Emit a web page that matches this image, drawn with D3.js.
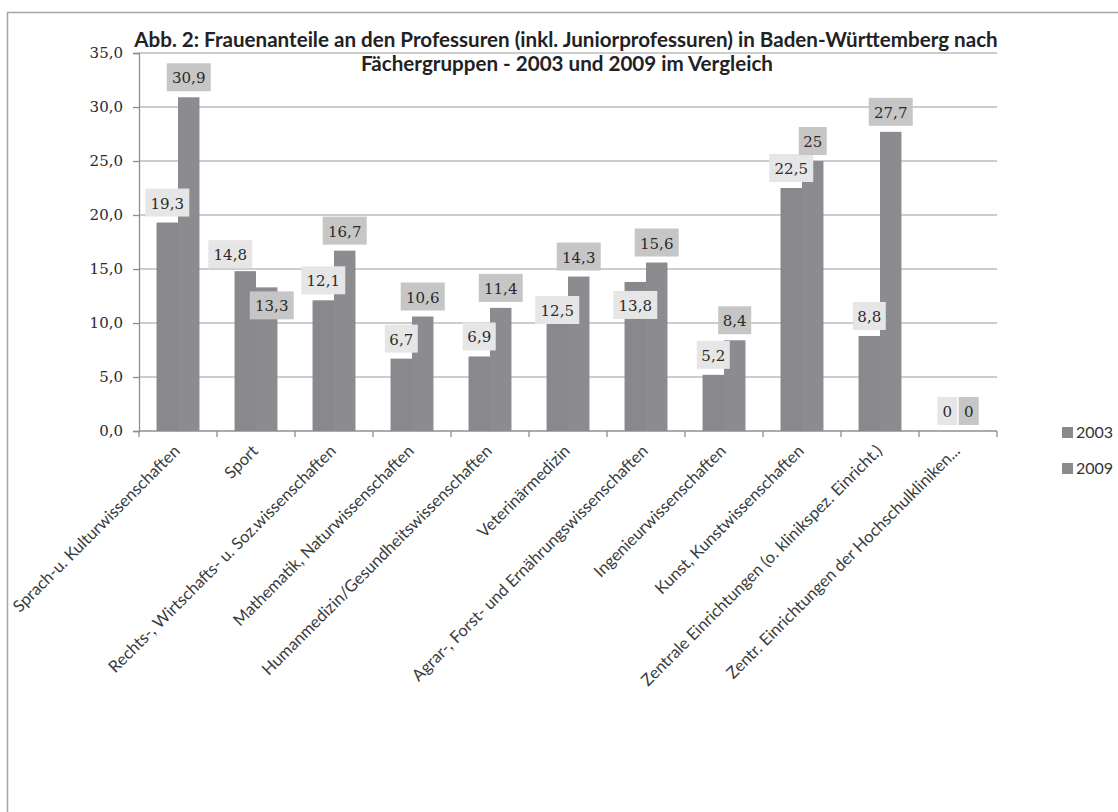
<!DOCTYPE html>
<html>
<head>
<meta charset="utf-8">
<script src="https://cdn.jsdelivr.net/npm/d3@7"></script>
<style>
  body { margin: 0; background: #fff; }
</style>
</head>
<body>
<div id="chart"></div>
<script>
//************* data ***************/
var categories = [
  "Sprach-u. Kulturwissenschaften",
  "Sport",
  "Rechts-, Wirtschafts- u. Soz.wissenschaften",
  "Mathematik, Naturwissenschaften",
  "Humanmedizin/Gesundheitswissenschaften",
  "Veterinärmedizin",
  "Agrar-, Forst- und Ernährungswissenschaften",
  "Ingenieurwissenschaften",
  "Kunst, Kunstwissenschaften",
  "Zentrale Einrichtungen (o. klinikspez. Einricht.)",
  "Zentr. Einrichtungen der Hochschulkliniken..."
];
var values2003 = [19.3, 14.8, 12.1, 6.7, 6.9, 12.5, 13.8, 5.2, 22.5, 8.8, 0];
var values2009 = [30.9, 13.3, 16.7, 10.6, 11.4, 14.3, 15.6, 8.4, 25, 27.7, 0];
var labels2003 = ["19,3", "14,8", "12,1", "6,7", "6,9", "12,5", "13,8", "5,2", "22,5", "8,8", "0"];
var labels2009 = ["30,9", "13,3", "16,7", "10,6", "11,4", "14,3", "15,6", "8,4", "25", "27,7", "0"];
var series = ["2003", "2009"];
var yTicks = [0, 5, 10, 15, 20, 25, 30, 35];

//************* set dimensions ***************/
var W = 1118, H = 812;
var margin = {left: 139, top: 53, right: 121, bottom: 381};
var width = W - margin.left - margin.right,
    height = H - margin.top - margin.bottom;

// labels that were pushed aside to avoid overlaps (series|index -> [dx, dy])
var labelNudge = {"2003|1": [-15, 3], "2009|1": [5, 38], "2003|5": [0, 34], "2003|6": [0, 43]};

var svg = d3.select("#chart").append("svg")
  .attr("width", W).attr("height", H);

// outer frame
svg.append("rect")
  .attr("x", 7.5).attr("y", 12.5)
  .attr("width", W + 20).attr("height", H + 20)
  .attr("fill", "none").attr("stroke", "#a6a6a6").attr("stroke-width", 1.5);

var g = svg.append("g")
  .attr("transform", "translate(" + margin.left + "," + margin.top + ")");

//************* scales ***************/
var x = d3.scaleBand().domain(categories).range([0, width])
  .paddingInner(0).paddingOuter(0);
var xs = d3.scaleBand().domain(series)
  .range([x.bandwidth() * 0.225, x.bandwidth() * 0.775]);
var y = d3.scaleLinear().domain([0, 35]).range([height, 0]);

var color = {"2003": "#88888d", "2009": "#8b8b90"};
var labelBg = {"2003": "#e6e6e6", "2009": "#c6c6c6"};

//************* grid ***************/
g.append("g").selectAll("line").data(yTicks.slice(1)).join("line")
  .attr("x1", 0).attr("x2", width)
  .attr("y1", d => y(d)).attr("y2", d => y(d))
  .attr("stroke", "#bdbdbd").attr("stroke-width", 1.3);

//************* axes ***************/
var yAxis = g.append("g")
  .call(d3.axisLeft(y).tickValues(yTicks).tickSize(6).tickPadding(10)
    .tickFormat(d => d3.format(".1f")(d).replace(".", ",")));
yAxis.select(".domain").attr("stroke", "#8f8f8f").attr("stroke-width", 1.3);
yAxis.selectAll(".tick line").attr("stroke", "#8f8f8f").attr("stroke-width", 1.3);
yAxis.selectAll(".tick text")
  .attr("font-family", "'DejaVu Serif', serif")
  .attr("font-size", "15px").attr("fill", "#2a2a2a");

// x axis with ticks between categories
var xAxisG = g.append("g").attr("transform", "translate(0," + height + ")");
xAxisG.append("line").attr("x1", 0).attr("x2", width)
  .attr("stroke", "#8f8f8f").attr("stroke-width", 1.3);
xAxisG.selectAll("line.sep").data(d3.range(categories.length + 1)).join("line")
  .attr("class", "sep")
  .attr("x1", i => i * x.step()).attr("x2", i => i * x.step())
  .attr("y1", 0).attr("y2", 6)
  .attr("stroke", "#8f8f8f").attr("stroke-width", 1.3);
xAxisG.selectAll("text").data(categories).join("text")
  .attr("transform", d => "translate(" + (x(d) + x.bandwidth() / 2 + 3) + ",21) rotate(-45)")
  .attr("text-anchor", "end")
  .attr("font-family", "Lato, 'Open Sans', sans-serif")
  .attr("font-size", "16.5px").attr("fill", "#3a3a3a")
  .text(d => d);

//************* bars ***************/
var rows = categories.map((c, i) => ({cat: c, i: i}));
var vals = {"2003": values2003, "2009": values2009};
var labs = {"2003": labels2003, "2009": labels2009};

series.forEach(function(s) {
  g.append("g").selectAll("rect").data(rows).join("rect")
    .attr("x", d => x(d.cat) + xs(s))
    .attr("y", d => y(vals[s][d.i]))
    .attr("width", xs.bandwidth())
    .attr("height", d => height - y(vals[s][d.i]))
    .attr("fill", color[s]);
});

// data labels on top of all bars
series.forEach(function(s) {
  var lab = g.append("g").selectAll("g").data(rows).join("g")
    .attr("transform", function(d) {
      var n = labelNudge[s + "|" + d.i] || [0, 0];
      return "translate(" + (x(d.cat) + xs(s) + xs.bandwidth() / 2 + n[0]) + "," + (y(vals[s][d.i]) + n[1]) + ")";
    });
  lab.each(function(d) {
    var t = labs[s][d.i];
    var w = t.length > 3 ? 44 : (t.length > 2 ? 33 : (t.length > 1 ? 28 : 20));
    d3.select(this).append("rect")
      .attr("x", -w / 2).attr("y", -34).attr("width", w).attr("height", 28)
      .attr("fill", labelBg[s]);
    d3.select(this).append("text")
      .attr("text-anchor", "middle").attr("y", -14)
      .attr("font-family", "'DejaVu Serif', serif")
      .attr("font-size", "15px").attr("fill", "#2a2a2a")
      .text(t);
  });
});

//***************** title *******************/
var title = svg.append("text")
  .attr("text-anchor", "middle")
  .attr("font-family", "Lato, 'Open Sans', sans-serif")
  .attr("font-weight", "bold").attr("font-size", "20.6px").attr("fill", "#222");
title.append("tspan").attr("x", 566).attr("y", 47)
  .text("Abb. 2: Frauenanteile an den Professuren (inkl. Juniorprofessuren) in Baden-Württemberg nach");
title.append("tspan").attr("x", 567).attr("y", 71)
  .text("Fächergruppen - 2003 und 2009 im Vergleich");

//***************** legend *******************/
var legend = svg.append("g").attr("transform", "translate(1062,427)");
series.forEach(function(s, i) {
  var row = legend.append("g").attr("transform", "translate(0," + (i * 36) + ")");
  row.append("rect").attr("width", 11).attr("height", 11).attr("fill", color[s]);
  row.append("text").attr("x", 14).attr("y", 11)
    .attr("font-family", "Lato, 'Open Sans', sans-serif")
    .attr("font-size", "16px").attr("fill", "#333")
    .text(s);
});
</script>
</body>
</html>
